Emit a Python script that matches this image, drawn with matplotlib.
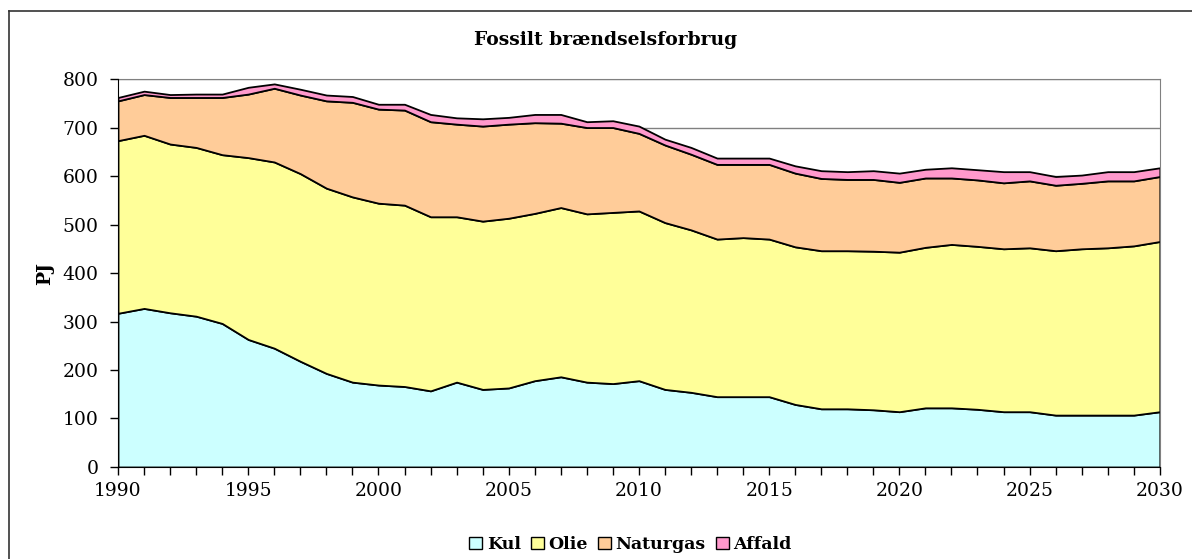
import numpy as np
import matplotlib.pyplot as plt
from matplotlib.lines import Line2D

years = np.arange(1990, 2031)

# PJ per brændsel
kul = [317, 327, 318, 311, 296, 263, 245, 218, 193, 175, 169,
       166, 157, 175, 160, 163, 178, 186, 175, 172, 178,
       160, 154, 145, 145, 145, 129, 120, 120, 118, 114,
       122, 122, 119, 114, 114, 107, 107, 107, 107, 114]
olie = [356, 357, 348, 348, 348, 375, 384, 387, 382, 382, 375,
        374, 359, 341, 347, 350, 345, 349, 347, 353, 350,
        344, 335, 325, 328, 325, 325, 326, 326, 327, 329,
        331, 337, 336, 336, 338, 339, 343, 345, 349, 351]
naturgas = [82, 84, 96, 103, 118, 131, 152, 162, 180, 195, 194,
            196, 196, 191, 196, 194, 187, 174, 178, 175, 160,
            160, 156, 154, 151, 154, 152, 149, 147, 148, 144,
            143, 137, 137, 136, 138, 135, 135, 138, 134, 134]
affald = [7, 7, 6, 7, 7, 14, 9, 12, 12, 12, 10,
          12, 15, 13, 15, 14, 17, 18, 12, 14, 15,
          12, 14, 13, 13, 13, 15, 16, 16, 18, 19,
          18, 21, 21, 23, 19, 18, 17, 19, 19, 18]

labels = ['Kul', 'Olie', 'Naturgas', 'Affald']
colors = ['#CCFFFF', '#FFFF99', '#FFCC99', '#FF99CC']

plt.rcParams['font.family'] = 'DejaVu Serif'

fig = plt.figure(figsize=(11.92, 5.59), dpi=100)
ax = fig.add_axes([0.099, 0.1646, 0.874, 0.694])

ax.stackplot(years, kul, olie, naturgas, affald, colors=colors, labels=labels,
             edgecolor='black', linewidth=1.3, zorder=2)

ax.set_xlim(1990, 2030)
ax.set_ylim(0, 800)
ax.set_xticks(np.arange(1990, 2031, 5))
ax.set_xticks(np.arange(1990, 2031, 1), minor=True)
ax.set_yticks(np.arange(0, 801, 100))
ax.tick_params(axis='both', which='both', direction='out', length=6, width=1, labelsize=13.5)
ax.tick_params(axis='x', which='major', pad=5)
ax.tick_params(axis='y', which='major', pad=8)
ax.grid(axis='y', color='#808080', linewidth=1, zorder=0)
ax.set_axisbelow(True)

for s in ['top', 'right']:
    ax.spines[s].set_color('#808080')
for s in ['left', 'bottom']:
    ax.spines[s].set_color('black')
    ax.spines[s].set_zorder(3)

ax.set_ylabel('PJ', fontsize=13.5, fontweight='bold', labelpad=6)
fig.text(0.508, 0.928, 'Fossilt brændselsforbrug', ha='center', va='center',
         fontsize=13.5, fontweight='bold')

leg = ax.legend(loc='center', bbox_to_anchor=(0.492, -0.2), ncol=4, frameon=False,
                prop={'size': 12.5, 'weight': 'bold'}, handlelength=0.75,
                handleheight=0.75, handletextpad=0.25, columnspacing=0.6)
for h in leg.legend_handles:
    h.set_edgecolor('black')
    h.set_linewidth(1)

# ramme om diagramområdet
fig.add_artist(Line2D([9 / 1192, 9 / 1192], [0, 1 - 11 / 559], color='#333333', lw=1.2))
fig.add_artist(Line2D([9 / 1192, 1], [1 - 11 / 559, 1 - 11 / 559], color='#333333', lw=1.2))

plt.savefig('out.png', dpi=100)
